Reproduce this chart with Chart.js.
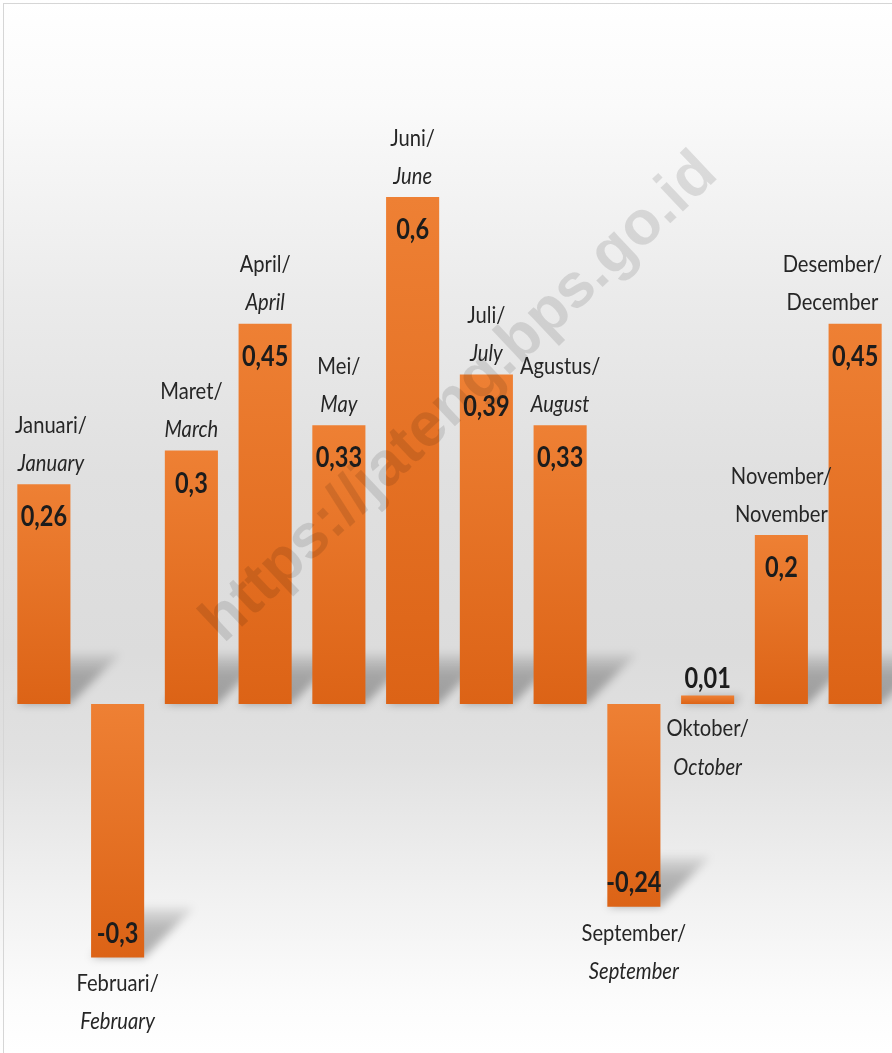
<!DOCTYPE html>
<html>
<head>
<meta charset="utf-8">
<script src="https://cdn.jsdelivr.net/npm/chart.js@4.4.1/dist/chart.umd.min.js"></script>
<style>
  html, body { margin: 0; padding: 0; background: #ffffff; overflow: hidden; }
  #wrap { position: relative; width: 892px; height: 1053px; }
  #frame { position: absolute; left: 3px; top: 3px; right: 0; bottom: 0; border-left: 1px solid #d6d6d6; border-top: 1px solid #d6d6d6; pointer-events: none; }
  canvas { position: absolute; left: 0; top: 0; }
</style>
</head>
<body>
<div id="wrap">
  <canvas id="c" width="892" height="1053"></canvas>
  <div id="frame"></div>
</div>
<script>
// ---- data ----
const monthsId = ["Januari/", "Februari/", "Maret/", "April/", "Mei/", "Juni/", "Juli/", "Agustus/", "September/", "Oktober/", "November/", "Desember/"];
const monthsEn = ["January", "February", "March", "April", "May", "June", "July", "August", "September", "October", "November", "December"];
const enItalic = [true, true, true, true, true, true, true, true, true, true, false, false];
const inflation = [0.26, -0.3, 0.3, 0.45, 0.33, 0.6, 0.39, 0.33, -0.24, 0.01, 0.2, 0.45];
const watermark = "https://jateng.bps.go.id";

const FONT = 'Lato, "Open Sans", sans-serif';
const SX = 0.84; // horizontal condensing to mimic a narrow face
const fmt = v => String(v).replace('.', ',');

function drawNarrow(ctx, text, cx, cy, font) {
  ctx.save();
  ctx.font = font;
  ctx.translate(cx, cy);
  ctx.scale(SX, 1);
  ctx.fillText(text, 0, 0);
  ctx.restore();
}
function widthNarrow(ctx, text, font) {
  ctx.save();
  ctx.font = font;
  const w = ctx.measureText(text).width * SX;
  ctx.restore();
  return w;
}

const bgPlugin = {
  id: 'bg',
  beforeDraw(chart) {
    const ctx = chart.ctx;
    const h = chart.height;
    const g = ctx.createLinearGradient(0, 0, 0, h);
    g.addColorStop(0.00, '#ffffff');
    g.addColorStop(0.10, '#fafafa');
    g.addColorStop(0.28, '#ebebeb');
    g.addColorStop(0.45, '#e0e0e0');
    g.addColorStop(0.62, '#dcdcdc');
    g.addColorStop(0.72, '#e1e1e1');
    g.addColorStop(0.85, '#f1f1f1');
    g.addColorStop(0.95, '#fcfcfc');
    g.addColorStop(1.00, '#ffffff');
    ctx.save();
    ctx.fillStyle = g;
    ctx.fillRect(0, 0, chart.width, h);
    ctx.restore();
  }
};

const shadowPlugin = {
  id: 'shadows',
  beforeDatasetsDraw(chart) {
    const ctx = chart.ctx;
    const meta = chart.getDatasetMeta(0);
    ctx.save();
    ctx.filter = 'blur(4px)';
    meta.data.forEach((bar) => {
      const p = bar.getProps(['x', 'y', 'base', 'width']);
      const left = p.x - p.width / 2, right = p.x + p.width / 2;
      const foot = Math.max(p.y, p.base);
      const len = Math.min(50, Math.abs(p.base - p.y));
      const g = ctx.createLinearGradient(0, foot, 0, foot - len);
      g.addColorStop(0, 'rgba(0,0,0,0.30)');
      g.addColorStop(0.6, 'rgba(0,0,0,0.25)');
      g.addColorStop(1, 'rgba(0,0,0,0.07)');
      ctx.fillStyle = g;
      ctx.beginPath();
      ctx.moveTo(left, foot);
      ctx.lineTo(right, foot);
      ctx.lineTo(right + len, foot - len);
      ctx.lineTo(left + len, foot - len);
      ctx.closePath();
      ctx.fill();
    });
    ctx.restore();
  }
};

const labelPlugin = {
  id: 'labels',
  afterDatasetsDraw(chart) {
    const ctx = chart.ctx;
    const meta = chart.getDatasetMeta(0);
    const ys = chart.scales.y;
    const zero = ys.getPixelForValue(0);

    // watermark
    ctx.save();
    ctx.translate(460, 398);
    ctx.rotate(-43.3 * Math.PI / 180);
    ctx.font = 'bold 62px "Liberation Sans", Arial, sans-serif';
    ctx.fillStyle = 'rgba(0,0,0,0.11)';
    ctx.textAlign = 'center';
    ctx.textBaseline = 'middle';
    ctx.fillText(watermark, 0, 0);
    ctx.restore();

    ctx.save();
    ctx.textBaseline = 'middle';
    ctx.textAlign = 'center';
    meta.data.forEach((bar, i) => {
      const v = inflation[i];
      const p = bar.getProps(['x', 'y', 'base', 'width']);
      let valY, l1, l2;
      if (v >= 0.05) {
        valY = p.y + 33; l2 = p.y - 21; l1 = p.y - 59;
      } else if (v >= 0) {
        valY = p.y - 17; l1 = zero + 24; l2 = zero + 63;
      } else {
        valY = p.y - 24; l1 = p.y + 26; l2 = p.y + 64;
      }
      // value label
      ctx.fillStyle = '#1c1c1c';
      drawNarrow(ctx, fmt(v), p.x, valY, 'bold 28px ' + FONT);
      // month labels
      const f1 = '24px ' + FONT;
      const f2 = (enItalic[i] ? 'italic ' : '') + '24px ' + FONT;
      ctx.fillStyle = '#262626';
      const w = Math.max(widthNarrow(ctx, monthsId[i], f1), widthNarrow(ctx, monthsEn[i], f2));
      let cx = p.x;
      if (cx + w / 2 > 882) cx = 882 - w / 2;
      if (cx - w / 2 < 15) cx = 15 + w / 2;
      drawNarrow(ctx, monthsId[i], cx, l1, f1);
      drawNarrow(ctx, monthsEn[i], cx, l2, f2);
    });
    ctx.restore();
  }
};

new Chart(document.getElementById('c'), {
  type: 'bar',
  data: {
    labels: monthsEn,
    datasets: [{
      data: inflation,
      borderWidth: 0,
      barPercentage: 0.72,
      categoryPercentage: 1.0,
      backgroundColor: (c) => {
        const chart = c.chart;
        if (!chart.chartArea || c.type !== 'data') return '#E8752A';
        const ys = chart.scales.y;
        const v = c.raw;
        const top = ys.getPixelForValue(Math.max(v, 0));
        const bot = ys.getPixelForValue(Math.min(v, 0));
        const g = chart.ctx.createLinearGradient(0, top, 0, bot + 0.01);
        g.addColorStop(0, '#EE8034');
        g.addColorStop(1, '#DC6316');
        return g;
      }
    }]
  },
  options: {
    responsive: false,
    animation: false,
    layout: { padding: { left: 7, right: 0, top: 0, bottom: 0 } },
    plugins: { legend: { display: false }, tooltip: { enabled: false } },
    scales: {
      x: { display: false, offset: true, grid: { display: false } },
      y: { display: false, min: -0.413, max: 0.8331, grid: { display: false } }
    }
  },
  plugins: [bgPlugin, shadowPlugin, labelPlugin]
});
</script>
</body>
</html>
